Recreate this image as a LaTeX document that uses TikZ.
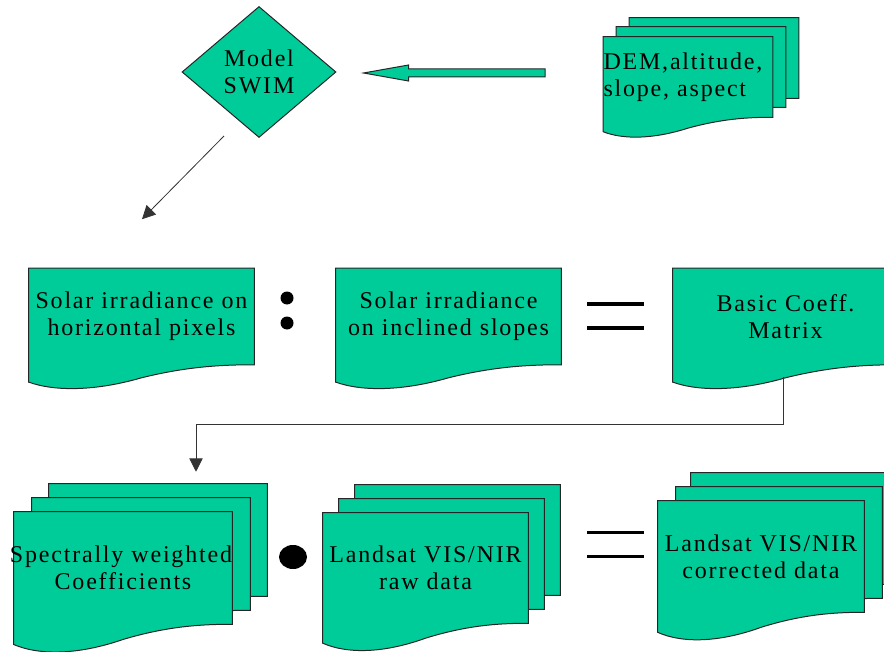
\documentclass[tikz,border=0pt]{standalone}
\usepackage{fontspec}
\setmainfont{Liberation Serif}[LetterSpace=7.5]
\usetikzlibrary{positioning, arrows.meta, backgrounds, shapes.geometric, calc}
\definecolor{seagreen}{RGB}{0,204,153}
\tikzstyle{sheet}=[draw=black!85,fill=seagreen,line width=0.75pt]
\tikzstyle{doc}=[rectangle,inner sep=0pt,align=center]
\tikzstyle{every node}=[font=\fontsize{18}{20}\selectfont]
\tikzstyle{link}=[draw=black!80,line width=0.6pt,-{Triangle[length=10pt,width=10pt]}]
\tikzstyle{dot}=[circle,fill=black,inner sep=0pt]
% one sheet of a document symbol, shifted by (#2,#3) from node #1
\newcommand{\docsheet}[3]{%
  \path[sheet] let \p1=($(#1.north west)+(#2,#3)$), \p2=($(#1.south east)+(#2,#3)$) in
    (\p1) -- (\x2,\y1) -- (\p2)
    .. controls ({0.15*\x1+0.85*\x2},\y2) and ({0.3*\x1+0.7*\x2},{\y2-0.02*(\y1-\y2)})
    .. ({0.5*\x1+0.5*\x2},{\y2-0.135*(\y1-\y2)})
    .. controls ({0.7*\x1+0.3*\x2},{\y2-0.27*(\y1-\y2)}) and ({0.88*\x1+0.12*\x2},{\y2-0.28*(\y1-\y2)})
    .. (\x1,{\y2-0.18*(\y1-\y2)}) -- cycle;}

\begin{document}
\begin{tikzpicture}[x=0.75pt,y=-0.75pt]
  \useasboundingbox (0,0) rectangle (884,652);
  % top row
  \node[diamond, sheet, aspect=1.18, minimum width=115.5pt, minimum height=98.25pt, inner sep=0pt, align=center] (swim) at (259,72) {Model\\SWIM};
  \node[doc, align=left, text width=126.75pt, minimum height=60pt] (dem) at (688,77) {DEM,altitude,\\slope, aspect};
  % middle row
  \node[doc, text width=168.75pt, minimum height=72pt] (Ehor) at (141.5,316.5) {Solar irradiance on\\horizontal pixels};
  \node[doc, text width=168.75pt, minimum height=72pt, right of=Ehor, node distance=230.25pt] (Eincl) {Solar irradiance\\on inclined slopes};
  \node[doc, text width=168.75pt, minimum height=72pt, right of=Eincl, node distance=252.75pt] (coeff) {Basic Coeff.\\Matrix};
  % bottom row
  \node[doc, text width=163.5pt, minimum height=84pt] (coefw) at (123,568) {\makebox[\linewidth][r]{Spectrally weighted}\\Coefficients};
  \node[doc, text width=153.75pt, minimum height=82.5pt, right of=coefw, node distance=226.875pt] (raw) {Landsat VIS/NIR\\raw data};
  \node[doc, text width=154.5pt, minimum height=83.25pt] (corr) at (761,556.5) {Landsat VIS/NIR\\corrected data};

  \begin{scope}[on background layer]
    \docsheet{dem}{26}{-19}
    \docsheet{dem}{13}{-10}
    \docsheet{dem}{0}{0}
    \docsheet{Ehor}{0}{0}
    \docsheet{Eincl}{0}{0}
    \docsheet{coeff}{0}{0}
    \docsheet{coefw}{35}{-28}
    \docsheet{coefw}{18}{-14}
    \docsheet{coefw}{0}{0}
    \docsheet{raw}{32}{-28}
    \docsheet{raw}{16}{-14}
    \docsheet{raw}{0}{0}
    \docsheet{corr}{33}{-28}
    \docsheet{corr}{18}{-14}
    \docsheet{corr}{0}{0}
  \end{scope}

  % block arrow from the terrain data to the model
  \path[sheet] let \p1=($(swim.east)+(27,1)$), \p2=($(dem.west)+(-58,0)$) in
    (\p1) -- ({\x1+33.75pt},{\y1+6pt}) -- ({\x1+33.75pt},{\y1+3pt}) -- (\x2,{\y1+3pt})
    -- (\x2,{\y1-3pt}) -- ({\x1+33.75pt},{\y1-3pt}) -- ({\x1+33.75pt},{\y1-6pt}) -- cycle;

  \coordinate (swimfoot) at ($(swim.south)+(-35,-2)$);
  \coordinate (horhead) at ($(Ehor.north)+(0.5,-49)$);
  \draw[link] (swimfoot) -- (horhead);
  \draw[link, shorten <=9.5pt] ($(coeff.south)+(-2.5,0)$) -- ++(0,59.5) -| ($(coefw.north)+(73,-40)$);

  % operators
  \node[dot, minimum size=9.75pt] (col1) at (287,298) {};
  \node[dot, minimum size=9.75pt] (col2) at (287,323) {};
  \draw[line width=3.5pt] (587,304) -- (644,304) (587,328) -- (644,328);
  \node[ellipse, fill=black, inner sep=0pt, minimum width=21pt, minimum height=18pt] (times) at (293,557) {};
  \draw[line width=2.25pt] (587,532) -- (644,532) (587,556) -- (644,556);
\end{tikzpicture}
\end{document}
